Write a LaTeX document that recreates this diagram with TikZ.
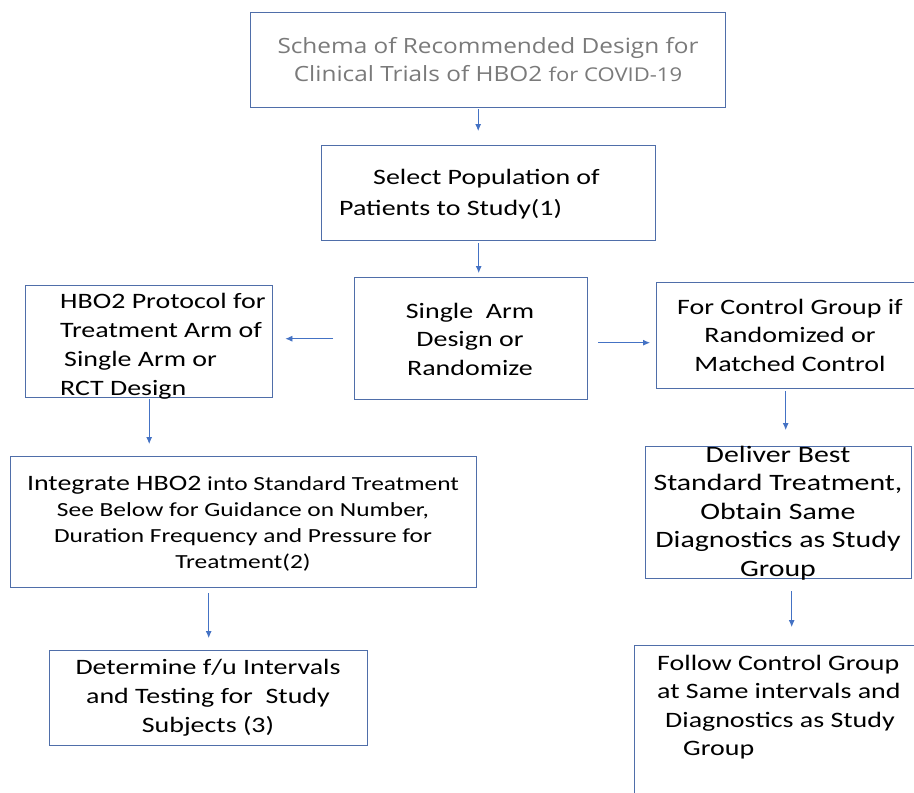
\documentclass[tikz,border=0pt]{standalone}
\usepackage{fontspec}
\setmainfont{Carlito}[FakeStretch=1.27]
\newfontfamily\titlefont{Open Sans}[FakeStretch=1.16]
\usetikzlibrary{arrows.meta}
\definecolor{boxblue}{HTML}{4F6EA9}
\definecolor{arrblue}{HTML}{4472C4}
\definecolor{titlegray}{HTML}{7A7A7A}
\begin{document}
\begin{tikzpicture}[x=1pt,y=-1pt,
  box/.style={draw=boxblue,line width=1.4pt,anchor=north west,inner sep=0pt},
  txt/.style={font=\fontsize{22}{28.5}\selectfont,inner sep=0pt,text=black},
  arr/.style={draw=arrblue,line width=0.8pt,-{Latex[length=7pt,width=6pt]}}]
\useasboundingbox[fill=white] (0,0) rectangle (914,793);
% boxes
\node[box,minimum width=475pt,minimum height=95pt] (title) at (250,12) {};
\node[box,minimum width=334pt,minimum height=95pt] (select) at (321,145) {};
\node[box,minimum width=233pt,minimum height=122pt] (single) at (354,277) {};
\node[box,minimum width=247pt,minimum height=112pt] (hbo) at (25,285) {};
\node[box,minimum width=280pt,minimum height=106pt] (ctrl) at (656,282) {};
\node[box,minimum width=266pt,minimum height=132pt] (deliver) at (645,446) {};
\node[box,minimum width=466pt,minimum height=131pt] (integ) at (10,456) {};
\node[box,minimum width=318pt,minimum height=95pt] (determ) at (49,650) {};
\node[box,minimum width=300pt,minimum height=200pt] (follow) at (634,645) {};
% texts
\node[txt,align=center,text=titlegray,font=\titlefont\fontsize{21}{28}\selectfont] (ttitle) at (488,60)
  {Schema of Recommended Design for\\Clinical Trials of HBO2 {\fontsize{19}{28}\selectfont for COVID-19}};
\node[txt,align=left,anchor=west,font=\fontsize{22}{31}\selectfont] (tselect) at (339,194)
  {\hspace{34pt}Select Population of\\Patients to Study(1)};
\node[txt,align=center] (tsingle) at (470,339) {Single\ \ Arm\\Design or\\Randomize};
\node[txt,align=left,anchor=west,font=\fontsize{22}{29}\selectfont] (thbo) at (60,346)
  {HBO2 Protocol for\\Treatment Arm of\\\hspace{4pt}Single Arm or\\RCT Design};
\node[txt,align=center] (tctrl) at (790,335) {For Control Group if\\Randomized or\\Matched Control};
\node[txt,align=center,font=\fontsize{23.5}{28.5}\selectfont] (tdeliver) at (778,513)
  {Deliver Best\\Standard Treatment,\\Obtain Same\\Diagnostics as Study\\Group};
\node[txt,align=center,font=\fontsize{20}{26}\selectfont] (tinteg) at (243,524)
  {{\fontsize{22}{26}\selectfont Integrate HBO2} into Standard Treatment\\See Below for Guidance on Number,\\Duration Frequency and Pressure for\\Treatment(2)};
\node[txt,align=center,font=\fontsize{22}{29}\selectfont] (tdeterm) at (208,698)
  {Determine f/u Intervals\\and Testing for\ \ Study\\Subjects (3)};
\node[txt,align=left,anchor=west] (tfollow) at (657,707)
  {Follow Control Group\\at Same intervals and\\\hspace{8pt}Diagnostics as Study\\\hspace{26pt}Group};
% connectors
\draw[arr,shorten <=1pt,shorten >=14pt] ([xshift=-10pt]title.south) -- ([xshift=-10pt]title.south |- select.north);
\draw[arr,shorten <=2pt,shorten >=4pt] ([xshift=-10pt]select.south) -- ([xshift=-10pt]select.south |- single.north);
\draw[arr,shorten <=21pt,shorten >=12pt] (single.west) -- (single.west -| hbo.east);
\draw[arr,shorten <=10pt,shorten >=6pt] ([yshift=-4pt]single.east) -- ([yshift=-4pt]single.east -| ctrl.west);
\draw[arr,shorten <=1pt,shorten >=12pt] (hbo.south) -- (hbo.south |- integ.north);
\draw[arr,shorten <=5pt,shorten >=12pt] (determ.north |- integ.south) -- (determ.north);
\draw[arr,shorten <=2pt,shorten >=16pt] ([xshift=7pt]deliver.north |- ctrl.south) -- ([xshift=7pt]deliver.north);
\draw[arr,shorten <=12pt,shorten >=18pt] ([xshift=13pt]deliver.south) -- ([xshift=13pt]deliver.south |- follow.north);
\end{tikzpicture}
\end{document}
